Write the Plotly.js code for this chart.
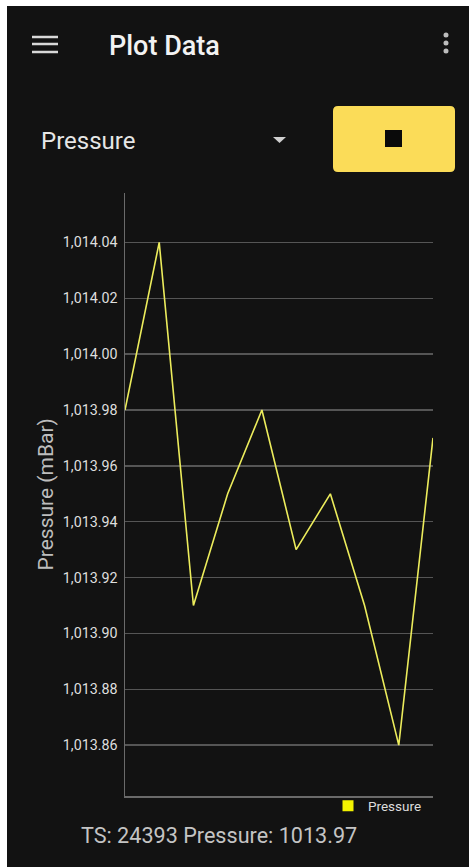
<!DOCTYPE html>
<html>
<head>
<meta charset="utf-8">
<script src="https://cdn.plot.ly/plotly-3.0.1.min.js"></script>
<style>
  html, body { margin: 0; padding: 0; background: #ffffff; }
  #chart { width: 469px; height: 867px; }
</style>
</head>
<body>
<div id="chart"></div>
<script>
// ---- data ----
const samples = [1, 2, 3, 4, 5, 6, 7, 8, 9, 10];
const pressure = [1013.98, 1014.04, 1013.91, 1013.95, 1013.98, 1013.93, 1013.95, 1013.91, 1013.86, 1013.97];
const yTickVals = [1013.86, 1013.88, 1013.90, 1013.92, 1013.94, 1013.96, 1013.98, 1014.00, 1014.02, 1014.04];
const seriesName = 'Pressure';
const yTitle = 'Pressure (mBar)';
const appTitle = 'Plot Data';
const dropdownLabel = 'Pressure';
const statusText = 'TS: 24393 Pressure: 1013.97';

// ---- layout helpers (pixel -> paper) ----
const W = 469, H = 867, ML = 125, MR = 36, MT = 193, MB = 71;
const PW = W - ML - MR, PH = H - MT - MB;
const px = x => (x - ML) / PW;
const py = y => (H - MB - y) / PH;

const BG = '#121212';
const shapes = [];
// white screenshot border (left/top)
shapes.push({type:'rect', xref:'paper', yref:'paper', x0:px(0), x1:px(7), y0:py(0), y1:py(H), fillcolor:'#ffffff', line:{width:0}, layer:'below'});
shapes.push({type:'rect', xref:'paper', yref:'paper', x0:px(0), x1:px(W), y0:py(0), y1:py(6), fillcolor:'#ffffff', line:{width:0}, layer:'below'});
// hamburger
[37, 44, 52].forEach(y => shapes.push({type:'line', xref:'paper', yref:'paper', x0:px(32), x1:px(58), y0:py(y), y1:py(y), line:{color:'#d8d8d8', width:2.5}}));
// overflow dots
[35, 43, 51].forEach(y => shapes.push({type:'circle', xref:'paper', yref:'paper', x0:px(443.5), x1:px(448.5), y0:py(y-2.5), y1:py(y+2.5), fillcolor:'#bdbdbd', line:{width:0}}));
// dropdown triangle
shapes.push({type:'path', xref:'paper', yref:'paper', path:`M ${px(273)},${py(137)} L ${px(286)},${py(137)} L ${px(279.5)},${py(143)} Z`, fillcolor:'#cfcfcf', line:{width:0}});
// button (rounded rect)
(function(){
  const x0 = 333, x1 = 455, y0 = 106, y1 = 172, r = 5;
  const p = [
    `M ${px(x0+r)},${py(y0)}`, `L ${px(x1-r)},${py(y0)}`, `Q ${px(x1)},${py(y0)} ${px(x1)},${py(y0+r)}`,
    `L ${px(x1)},${py(y1-r)}`, `Q ${px(x1)},${py(y1)} ${px(x1-r)},${py(y1)}`,
    `L ${px(x0+r)},${py(y1)}`, `Q ${px(x0)},${py(y1)} ${px(x0)},${py(y1-r)}`,
    `L ${px(x0)},${py(y0+r)}`, `Q ${px(x0)},${py(y0)} ${px(x0+r)},${py(y0)}`, 'Z'
  ].join(' ');
  shapes.push({type:'path', xref:'paper', yref:'paper', path:p, fillcolor:'#fbdc58', line:{width:0}});
})();
shapes.push({type:'rect', xref:'paper', yref:'paper', x0:px(385), x1:px(402), y0:py(147), y1:py(130), fillcolor:'#0a0a0a', line:{width:0}});

const annotations = [
  {text: appTitle, xref:'paper', yref:'paper', x:px(107), y:py(46), xanchor:'left', yanchor:'middle', showarrow:false,
   font:{family:'Roboto', size:27, color:'#f2f2f2', weight:500}},
  {text: dropdownLabel, xref:'paper', yref:'paper', x:px(39), y:py(141), xanchor:'left', yanchor:'middle', showarrow:false,
   font:{family:'Roboto', size:24, color:'#e6e6e6'}},
  {text: yTitle, xref:'paper', yref:'paper', x:px(45), y:0.5, xanchor:'center', yanchor:'middle', textangle:-90, showarrow:false,
   font:{family:'Roboto', size:21, color:'#bdbdbd'}},
  {text: statusText, xref:'paper', yref:'paper', x:px(79), y:py(835), xanchor:'left', yanchor:'middle', showarrow:false,
   font:{family:'Roboto', size:21.6, color:'#c4c4c4'}}
];

const traces = [
  {x: samples, y: pressure, type:'scatter', mode:'lines', name: seriesName, showlegend:false,
   line:{color:'#ecec5c', width:1.6}, hoverinfo:'skip'},
  {x: [null], y: [null], type:'scatter', mode:'markers', name: seriesName, showlegend:true,
   marker:{symbol:'square', size:11, color:'#f2f200'}}
];

const layout = {
  width: W, height: H,
  margin: {l: ML, r: MR, t: MT, b: MB, pad: 0},
  paper_bgcolor: BG, plot_bgcolor: BG,
  showlegend: true,
  legend: {x: px(328), xanchor:'left', y: py(806), yanchor:'middle', orientation:'h',
           bgcolor:'rgba(0,0,0,0)', borderwidth:0, font:{family:'Roboto', size:13.5, color:'#dcdcdc'}},
  xaxis: {range:[samples[0], samples[samples.length-1]], showgrid:false, zeroline:false, showticklabels:false,
          ticks:'', showline:true, linecolor:'#6a6a6a', linewidth:1.5, fixedrange:true},
  yaxis: {range:[1013.8418, 1014.0577], tickvals: yTickVals, tickformat:',.2f', showgrid:true, gridcolor:'#555555', gridwidth:1.5,
          zeroline:false, showline:true, linecolor:'#6a6a6a', linewidth:1.5, ticks:'', ticklen:0, ticklabelstandoff:3,
          tickfont:{family:'Roboto', size:14.3, color:'#dedede'}, fixedrange:true},
  shapes: shapes,
  annotations: annotations
};

Plotly.newPlot('chart', traces, layout, {displayModeBar:false, staticPlot:true});
</script>
</body>
</html>
